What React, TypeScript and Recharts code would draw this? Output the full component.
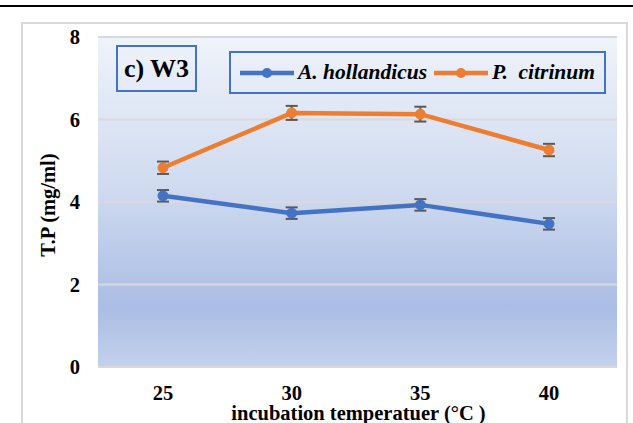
import { CartesianGrid, ErrorBar, Legend, Line, LineChart, XAxis, YAxis } from 'recharts'

const TEMPS = ['25', '30', '35', '40']
const HOLLANDICUS = [4.15, 3.73, 3.93, 3.47]
const HOLLANDICUS_ERR = [0.14, 0.14, 0.14, 0.14]
const CITRINUM = [4.83, 6.16, 6.13, 5.26]
const CITRINUM_ERR = [0.15, 0.17, 0.18, 0.15]
const Y_TICKS = [0, 2, 4, 6, 8]

const SERIES = [
  { key: 'hollandicus', name: 'A. hollandicus', color: '#4472c4' },
  { key: 'citrinum', name: 'P.  citrinum', color: '#ed7d31' },
]

const FONT = "'Liberation Serif', 'Times New Roman', serif"

const data = TEMPS.map((temp, i) => ({
  temp,
  hollandicus: HOLLANDICUS[i],
  hollandicusErr: HOLLANDICUS_ERR[i],
  citrinum: CITRINUM[i],
  citrinumErr: CITRINUM_ERR[i],
}))

function LegendBox() {
  return (
    <div
      style={{
        boxSizing: 'border-box',
        width: 377,
        height: 43,
        border: '2px solid #4472c4',
        display: 'flex',
        alignItems: 'center',
        paddingLeft: 9,
        fontFamily: FONT,
        fontWeight: 700,
        fontStyle: 'italic',
        fontSize: 21.5,
        color: '#000',
        whiteSpace: 'pre',
      }}
    >
      {SERIES.map((s, i) => (
        <div key={s.key} style={{ display: 'flex', alignItems: 'center', marginLeft: i === 0 ? 0 : 7 }}>
          <svg width={54} height={12} style={{ marginRight: 4 }}>
            <line x1={0} y1={6} x2={54} y2={6} stroke={s.color} strokeWidth={4.5} />
            <circle cx={27} cy={6} r={5} fill={s.color} />
          </svg>
          <span>{s.name}</span>
        </div>
      ))}
    </div>
  )
}

export default function App() {
  return (
    <div
      style={{
        position: 'absolute',
        left: 0,
        top: 0,
        width: 633,
        height: 423,
        overflow: 'hidden',
        background: '#ffffff',
      }}
    >
      <div style={{ position: 'absolute', left: 0, top: 5, width: 633, height: 2, background: '#000' }} />
      <div
        style={{
          position: 'absolute',
          left: 21,
          top: 22,
          width: 607,
          height: 420,
          boxSizing: 'border-box',
          border: '2px solid #d9d9d9',
        }}
      />
      <div style={{ position: 'absolute', left: 0, top: 0 }}>
        <LineChart width={633} height={423} data={data} margin={{ top: 37, right: 16, bottom: 0, left: 0 }}>
          <defs>
            <linearGradient id="plotBg" x1="0" y1="0" x2="0" y2="1">
              <stop offset="0%" stopColor="#eff3fa" />
              <stop offset="45%" stopColor="#d0dbf0" />
              <stop offset="82%" stopColor="#aabde4" />
              <stop offset="100%" stopColor="#c3d1ec" />
            </linearGradient>
          </defs>
          <CartesianGrid vertical={false} stroke="#d9d9d9" strokeWidth={2} fill="url(#plotBg)" fillOpacity={1} />
          <XAxis
            dataKey="temp"
            height={56}
            padding={{ left: 65, right: 68 }}
            axisLine={{ stroke: '#d9d9d9', strokeWidth: 2 }}
            tickLine={false}
            tickMargin={12}
            tick={{ fill: '#000', fontSize: 20.5, fontWeight: 700, fontFamily: FONT }}
            label={{
              value: 'incubation  temperatuer (°C )',
              position: 'insideBottom',
              offset: 3,
              dx: 1,
              style: { fill: '#000', fontSize: 20.5, fontWeight: 700, fontFamily: FONT, whiteSpace: 'pre' },
            }}
          />
          <YAxis
            width={98}
            domain={[0, 8]}
            ticks={Y_TICKS}
            axisLine={false}
            tickLine={false}
            tickMargin={12}
            tick={{ fill: '#000', fontSize: 20.5, fontWeight: 700, fontFamily: FONT }}
            label={{
              value: 'T.P (mg/ml)',
              angle: -90,
              position: 'center',
              dx: -1,
              dy: 3,
              style: { fill: '#000', fontSize: 20.5, fontWeight: 700, fontFamily: FONT },
            }}
          />
          <Legend
            layout="horizontal"
            verticalAlign="middle"
            align="center"
            wrapperStyle={{ position: 'absolute', left: 229, top: 51, width: 377, height: 43 }}
            content={() => <LegendBox />}
          />
          {SERIES.map((s) => (
            <Line
              key={s.key}
              type="linear"
              dataKey={s.key}
              name={s.name}
              stroke={s.color}
              strokeWidth={4.5}
              dot={{ r: 5, fill: s.color, stroke: s.color, strokeWidth: 1 }}
              activeDot={false}
              isAnimationActive={false}
            >
              <ErrorBar
                dataKey={`${s.key}Err`}
                direction="y"
                width={6}
                stroke="#595959"
                strokeWidth={2}
                isAnimationActive={false}
              />
            </Line>
          ))}
        </LineChart>
      </div>
      <div
        style={{
          position: 'absolute',
          left: 116,
          top: 45,
          width: 81,
          height: 47,
          boxSizing: 'border-box',
          border: '2px solid #4472c4',
          display: 'flex',
          alignItems: 'center',
          justifyContent: 'center',
          fontFamily: FONT,
          fontWeight: 700,
          fontSize: 26,
          color: '#000',
        }}
      >
        c) W3
      </div>
    </div>
  )
}
